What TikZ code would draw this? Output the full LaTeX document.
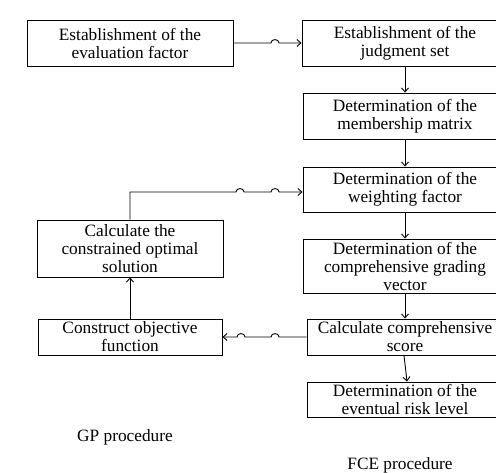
\documentclass[tikz,border=0pt]{standalone}
\usepackage{fontspec}
\setmainfont{Liberation Serif}
\usetikzlibrary{arrows.meta}

\begin{document}
\begin{tikzpicture}[x=1pt,y=1pt,>={Straight Barb[length=4pt,width=7pt]},
 box/.style={draw,align=center,inner sep=0pt,line width=0.9pt,
 font=\fontsize{17.3}{18}\selectfont},
 lbl/.style={font=\fontsize{17.3}{18}\selectfont},every path/.style={line width=0.9pt}]
\useasboundingbox (0,0) rectangle (496,472);
\node[box,minimum width=206pt,minimum height=46pt] (evf) at (130,429) {Establishment of the\\evaluation factor};
\node[box,minimum width=206pt,minimum height=46pt] (jset) at (405,429) {Establishment of the\\judgment set};
\node[box,minimum width=204pt,minimum height=46pt] (mmat) at (405,356) {Determination of the\\membership matrix};
\node[box,minimum width=204pt,minimum height=45pt] (wfac) at (405,282.5) {Determination of the\\weighting factor};
\node[box,minimum width=204pt,minimum height=54pt] (gvec) at (405,206) {Determination of the\\comprehensive grading\\vector};
\node[box,minimum width=196pt,minimum height=36pt] (score) at (405,135) {Calculate comprehensive\\score};
\node[box,minimum width=196pt,minimum height=35pt] (risk) at (405,72.5) {Determination of the\\eventual risk level};
\node[box,minimum width=186pt,minimum height=57pt] (opt) at (130,223.5) {Calculate the\\constrained optimal\\solution};
\node[box,minimum width=184pt,minimum height=36pt] (obj) at (130,135) {Construct objective\\function};
\node[lbl] (gp) at (125,35) {GP procedure};
\node[lbl] (fce) at (400,7) {FCE procedure};
\coordinate (bend) at (130,280);
% FCE chain
\draw[->] (evf) -- (271,429) .. controls +(0,4.5) and +(0,4.5) .. (279,429) -- (jset);
\draw[->] (jset) -- (mmat);
\draw[->] (mmat) -- (wfac);
\draw[->] (wfac) -- (gvec);
\draw[->] (gvec) -- (score);
\draw[->] ([xshift=-1pt]score.south) -- ([xshift=2pt]risk.north);
% GP loop
\draw[->] (score) -- (279,135) .. controls +(0,4.5) and +(0,4.5) .. (271,135) -- (245,135)
 .. controls +(0,4.5) and +(0,4.5) .. (237,135) -- (obj);
\draw[->] (obj) -- (opt);
\draw[->] (opt.north) -- (bend) -- (236,280) .. controls +(0,4.5) and +(0,4.5) .. (244,280) -- (271,280)
 .. controls +(0,4.5) and +(0,4.5) .. (279,280) -- (wfac.west |- bend);
\end{tikzpicture}
\end{document}
